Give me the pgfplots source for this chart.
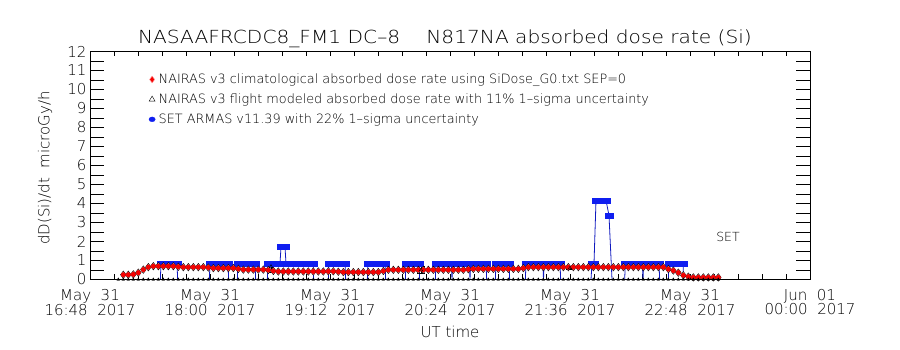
\documentclass[border=0pt]{standalone}
\usepackage{fontspec}
\setmainfont{DejaVu Sans ExtraLight}
\usepackage{pgfplots}
\usepackage{pgfplotstable}
\pgfplotsset{compat=1.18}
\definecolor{setblue}{RGB}{15,30,240}
\definecolor{setline}{RGB}{15,25,190}
\definecolor{nred}{RGB}{245,0,0}

\pgfplotstableread{
t v
20 0.25
23 0.25
26 0.27
29 0.36
32 0.52
35 0.65
38 0.70
41 0.70
44 0.70
47 0.70
50 0.70
53 0.67
56 0.65
59 0.65
62 0.65
65 0.65
68 0.65
71 0.63
74 0.60
77 0.60
80 0.60
83 0.60
86 0.60
89 0.56
92 0.52
95 0.52
98 0.52
101 0.52
104 0.52
107 0.50
110 0.45
113 0.42
116 0.42
119 0.42
122 0.42
125 0.42
128 0.42
131 0.42
134 0.42
137 0.42
140 0.42
143 0.43
146 0.43
149 0.41
152 0.39
155 0.39
158 0.39
161 0.39
164 0.39
167 0.39
170 0.39
173 0.39
176 0.45
179 0.51
182 0.51
185 0.51
188 0.51
191 0.51
194 0.51
197 0.51
200 0.51
203 0.51
206 0.51
209 0.51
212 0.51
215 0.51
218 0.51
221 0.51
224 0.51
227 0.54
230 0.56
233 0.56
236 0.56
239 0.56
242 0.56
245 0.56
248 0.56
251 0.56
254 0.56
257 0.56
260 0.60
263 0.65
266 0.65
269 0.65
272 0.65
275 0.65
278 0.65
281 0.65
284 0.65
287 0.65
290 0.65
293 0.65
296 0.65
299 0.65
302 0.65
305 0.65
308 0.65
311 0.65
314 0.65
317 0.65
320 0.65
323 0.65
326 0.65
329 0.65
332 0.65
335 0.65
338 0.65
341 0.65
344 0.65
347 0.55
350 0.47
353 0.36
356 0.22
359 0.15
362 0.11
365 0.11
368 0.11
371 0.11
374 0.11
377 0.11
}\reddata

\pgfplotstableread{
t v
17 0
20 0
23 0
26 0
29 0
32 0
35 0
38 0
41 0
44 0
47 0
50 0
53 0
56 0
59 0
62 0
65 0
68 0
71 0
74 0
77 0
80 0
83 0
86 0
89 0
92 0
95 0
98 0
101 0
104 0
107 0
110 0
113 0
116 0
119 0
122 0
125 0
128 0
131 0
134 0
137 0
140 0
143 0
146 0
149 0
152 0
155 0
158 0
161 0
164 0
167 0
170 0
173 0
176 0
179 0
182 0
185 0
188 0
191 0
194 0
197 0
200 0
203 0
206 0
209 0
212 0
215 0
218 0
221 0
224 0
227 0
230 0
233 0
236 0
239 0
242 0
245 0
248 0
251 0
254 0
257 0
260 0
263 0
266 0
269 0
272 0
275 0
278 0
281 0
284 0
287 0
290 0
293 0
296 0
299 0
302 0
305 0
308 0
311 0
314 0
317 0
320 0
323 0
326 0
329 0
332 0
335 0
338 0
341 0
344 0
347 0
350 0
353 0
356 0
359 0
362 0
365 0
368 0
371 0
374 0
377 0
}\blackdata

\pgfplotstableread{
t v
18 0
42.2 0
42.6 0.85
44.6 0.85
46.6 0.85
48.6 0.85
50.6 0.85
52.2 0.85
52.6 0
71.6 0
72 0.85
74 0.85
76 0.85
78 0.85
80 0.85
82 0.85
82.8 0.85
83.2 0
88.4 0
88.8 0.85
90.8 0.85
92.8 0.85
94.8 0.85
96.8 0.85
99 0.85
99.4 0
106.4 0
106.8 0.85
108.8 0.85
110.8 0.85
112.8 0.85
114 0.85
114.6 1.7
115.8 1.7
117 1.7
117.6 0.85
119.6 0.85
121.6 0.85
123.6 0.85
125.6 0.85
127.6 0.85
129.6 0.85
131.6 0.85
133.8 0.85
134.2 0
143 0
143.4 0.85
145.4 0.85
147.4 0.85
149.4 0.85
151.4 0.85
153 0.85
153.4 0
166.4 0
166.8 0.85
168.8 0.85
170.8 0.85
172.8 0.85
174.8 0.85
177 0.85
177.4 0
189.2 0
189.6 0.85
191.6 0.85
193.6 0.85
195.6 0.85
197.4 0.85
197.8 0
207.2 0
207.6 0.85
209.6 0.85
211.6 0.85
213.6 0.85
215.6 0.85
216.8 0.85
217.2 0
217.6 0.85
219.6 0.85
221.6 0.85
223.6 0.85
225.6 0.85
227.6 0.85
228 0
228.4 0.85
230.4 0.85
232.4 0.85
234.4 0.85
236.4 0.85
237.6 0.85
238 0
243.2 0
243.6 0.85
245.6 0.85
247.6 0.85
249.6 0.85
251.4 0.85
251.8 0
261.2 0
261.6 0.85
263.6 0.85
265.6 0.85
267.6 0.85
269.6 0.85
271.7 0.85
272.1 0
272.5 0.85
274.5 0.85
276.5 0.85
278.5 0.85
280.5 0.85
282 0.85
282.4 0
300.6 0
301.2 0.85
302.4 0.85
303.6 4.16
305.6 4.16
307.6 4.16
309.6 4.16
311.4 3.37
313.2 0
320.8 0
321.2 0.85
323.2 0.85
325.2 0.85
327.2 0.85
329.2 0.85
331.4 0.85
331.8 0
332.2 0.85
334.2 0.85
336.2 0.85
338.2 0.85
340.2 0.85
341.4 0.85
341.8 0
347 0
347.4 0.85
349.4 0.85
351.4 0.85
353.4 0.85
355.8 0.85
356.2 0
358 0
}\bluedata

\begin{document}
\begin{tikzpicture}
\path[use as bounding box] (0pt,0pt) rectangle (900pt,350pt);

% main axis: data, x ticks
\begin{axis}[
  at={(90pt,70.5pt)}, anchor=south west,
  scale only axis, width=720pt, height=228pt,
  xmin=0, xmax=432, ymin=0, ymax=12,
  axis line style={black, line width=0.9pt},
  tick style={black, line width=0.8pt},
  major tick length=5pt, minor tick length=5pt,
  xtick={0,72,144,216,288,360,432},
  minor x tick num=4,
  xticklabels={{May~~31\\16:48~~2017},{May~~31\\18:00~~2017},{May~~31\\19:12~~2017},{May~~31\\20:24~~2017},{May~~31\\21:36~~2017},{May~~31\\22:48~~2017},{Jun~~01\\00:00~~2017}},
  xticklabel style={align=center, font=\fontsize{15}{12.5}\selectfont, yshift=-6pt},
  ytick=\empty,
  legend style={at={(axis cs:35.4,10.9)}, anchor=north west, draw=none, fill=none,
    inner sep=0pt, outer sep=0pt, font=\fontsize{12.8}{14}\selectfont, row sep=5.7pt,
    nodes={inner sep=1.5pt},
    /tikz/every odd column/.append style={column sep=2pt}},
  legend cell align=left,
  legend image code/.code={\draw[#1] plot coordinates {(4pt,0pt)};},
]
% SET ARMAS line and marks
\addplot[setline, line width=0.8pt, mark=none, forget plot] table[x=t,y=v] {\bluedata};
\addplot[only marks, mark=square*, mark size=2.5pt, mark options={xscale=1.7, rounded corners=1.6pt, fill=setblue, draw=setblue}, restrict y to domain=0.5:20, forget plot] table[x=t,y=v] {\bluedata};
% NAIRAS climatological
\addplot[only marks, mark=diamond*, mark size=3.8pt, mark options={fill=red!45, draw=none}, forget plot] table[x=t,y=v] {\reddata};
\addplot[only marks, mark=*, mark size=2.2pt, mark options={fill=nred, draw=nred}, forget plot] table[x=t,y=v] {\reddata};
% NAIRAS flight modeled
\addplot[only marks, mark=triangle*, mark size=1.6pt, black, forget plot] table[x=t,y=v] {\blackdata};
\addplot[black, only marks, mark=triangle, mark size=2pt, forget plot,
  error bars/.cd, y dir=both, y explicit,
  error bar style={line width=0.8pt, black},
  error mark options={rotate=90, mark size=4pt, black, line width=0.8pt}]
  coordinates {(108.6,0.68) +- (0,0.29) (198.6,0.5) +- (0,0.18) (288,0.6) +- (0,0.05)};

\addlegendimage{only marks, mark=diamond*, mark size=3.4pt, mark options={fill=nred, draw=red!40}}
\addlegendentry{NAIRAS v3 climatological absorbed dose rate using SiDose\_G0.txt SEP=0}
\addlegendimage{only marks, mark=triangle, mark size=3.4pt, black}
\addlegendentry{NAIRAS v3 flight modeled absorbed dose rate with 11\% 1--sigma uncertainty}
\addlegendimage{only marks, mark=*, mark size=2.4pt, mark options={xscale=1.3, fill=setblue, draw=setblue}}
\addlegendentry{SET ARMAS v11.39 with 22\% 1--sigma uncertainty}
\end{axis}

% overlay axis: y ticks
\begin{axis}[
  at={(90pt,70.5pt)}, anchor=south west,
  scale only axis, width=720pt, height=228pt,
  xmin=0, xmax=432, ymin=0, ymax=12,
  axis line style={black, line width=0.9pt},
  tick style={black, line width=0.8pt},
  xtick=\empty,
  ytick={0,1,...,12},
  minor y tick num=1,
  major tick length=14pt, minor tick length=14pt,
  /pgf/number format/assume math mode=true,
  yticklabel style={font=\fontsize{15}{15}\selectfont},
]
\end{axis}

\node[anchor=base, font=\fontsize{18}{18}\selectfont, xscale=1.12] at (445pt,306.7pt) {NASAAFRCDC8\_FM1 DC--8\hspace{1.3em}N817NA absorbed dose rate (Si)};
\node[anchor=base, font=\fontsize{15}{15}\selectfont] at (450pt,12pt) {UT time};
\node[rotate=90, font=\fontsize{15}{15}\selectfont] at (45pt,182pt) {dD(Si)/dt~~microGy/h};
\node[anchor=base, font=\fontsize{12.5}{12.5}\selectfont] at (728pt,108.3pt) {SET};
\end{tikzpicture}
\end{document}
